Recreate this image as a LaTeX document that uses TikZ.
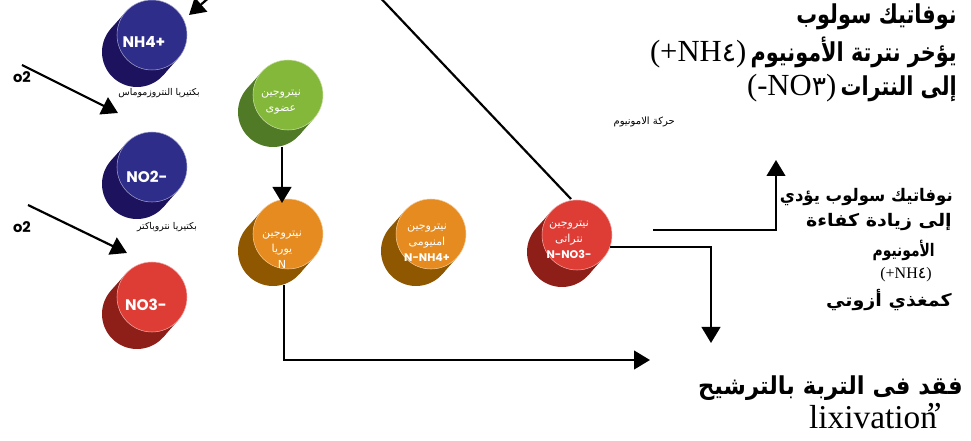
\documentclass[tikz,border=0pt]{standalone}
\usepackage{graphicx}
\usepackage{fontspec}
\setmainfont{Liberation Serif}
\newfontfamily\ar[Script=Arabic]{DejaVu Sans}
\newfontfamily\pop{Poppins}
\TeXXeTstate=1
\usetikzlibrary{arrows.meta}
\definecolor{bluL}{HTML}{2E2E8A}
\definecolor{bluD}{HTML}{1C125E}
\definecolor{grnL}{HTML}{84B83A}
\definecolor{grnD}{HTML}{507A25}
\definecolor{orgL}{HTML}{E58B1F}
\definecolor{orgD}{HTML}{8E5700}
\definecolor{redL}{HTML}{DE3D36}
\definecolor{redD}{HTML}{8E1F18}
\newcommand{\cyl}[5]{%
  \fill[#5] (#2-15,#3+17) circle[radius=35];
  \fill[#5] (#2+26.2,#3+23.2) -- (#2-26.2,#3-23.2) -- (#2-41.2,#3-6.2) -- (#2+11.2,#3+40.2) -- cycle;
  \node[disc,fill=#4,draw=white!55!#4] (#1) at (#2,#3) {};
}
\newcommand{\nar}[1]{\scalebox{0.8}[1]{\beginR #1\endR}}
\tikzset{
  disc/.style={circle,minimum size=52.5pt,inner sep=0pt,line width=0.4pt},
  ln/.style={line width=1.65pt},
  arr/.style={ln,-{Triangle[length=12pt,width=14pt]}},
  lat/.style={text=white,font=\pop\bfseries\fontsize{11.5}{13}\selectfont,inner sep=0pt},
  arw/.style={text=white,font=\ar\fontsize{8.3}{12}\selectfont,align=center,inner sep=0pt},
  small/.style={font=\ar\fontsize{7}{8}\selectfont,inner sep=0pt},
  big/.style={font=\ar\bfseries\fontsize{19.5}{22}\selectfont,inner sep=0pt,anchor=east},
  mid/.style={font=\ar\bfseries\fontsize{13}{15}\selectfont,inner sep=0pt,anchor=east},
  otwo/.style={font=\pop\bfseries\fontsize{11}{12}\selectfont,inner sep=0pt}
}
\begin{document}
\begin{tikzpicture}[x=0.75pt,y=-0.75pt]
\useasboundingbox (0,0) rectangle (971,441);
\clip (0,0) rectangle (971,441);
% cylinders
\cyl{nh}{152}{35}{bluL}{bluD}
\cyl{notwo}{152}{167}{bluL}{bluD}
\cyl{nothree}{152}{297}{redL}{redD}
\cyl{org}{288}{95}{grnL}{grnD}
\cyl{urea}{288}{234}{orgL}{orgD}
\cyl{amm}{431}{234}{orgL}{orgD}
\cyl{nit}{577}{235}{redL}{redD}
% circle labels
\node[lat] (lnh) at (144,42) {NH4+};
\node[lat] (lno2) at (147,177) {NO2-};
\node[lat] (lno3) at (146,305) {NO3-};
\node[arw] (lorg) at (281,102) {\beginR نيتروجين\endR\\\beginR عضوى\endR};
\node[arw] (lurea) at (282,250) {\beginR نيتروجين\endR\\\beginR يوريا\endR\\N};
\node[arw] (lamm) at (427,243) {\beginR نيتروجين\endR\\\beginR امنيومى\endR\\{\pop\bfseries N-NH4+}};
\node[arw] (lnit) at (569,240) {\beginR نيتروجين\endR\\\beginR نتراتى\endR\\{\pop\bfseries N-NO3-}};
% bacteria labels
\node[small] (b1) at (159,93) {\beginR بكتيريا النتروزموماس\endR};
\node[small] (b2) at (167,227) {\beginR بكتيريا نتروباكتر\endR};
\node[otwo] (o1) at (22,77) {o2};
\node[otwo] (o2b) at (22,227) {o2};
% connectors
\coordinate (a0) at (235,-25); \coordinate (a1) at (189,15);
\draw[arr] (a0) -- (a1);
\coordinate (p0) at (22,65); \coordinate (p1) at (118,113);
\draw[arr] (p0) -- (p1);
\coordinate (q0) at (28,205); \coordinate (q1) at (127,253);
\draw[arr] (q0) -- (q1);
\coordinate (g0) at (282,147); \coordinate (g1) at (282,203);
\draw[arr] (g0) -- (g1);
\coordinate (u0) at (284,285); \coordinate (u1) at (650,360);
\draw[arr] (u0) |- (u1);
\coordinate (d0) at (571,199); \coordinate (d1) at (373,-10);
\draw[ln] (d0) -- (d1);
\coordinate (r0) at (610,247); \coordinate (r1) at (711,343);
\draw[arr] (r0) -| (r1);
\coordinate (s0) at (653,230); \coordinate (s1) at (776,160);
\draw[arr] (s0) -| (s1);
% texts top right
\node[big] (t1) at (957,17) {\nar{نوفاتيك سولوب}};
\node[big] (t2) at (957,52) {{\rmfamily\mdseries\fontsize{23}{24}\selectfont (+NH{\ar\fontsize{20}{22}\selectfont ٤})}\,\nar{يؤخر نترتة الأمونيوم}};
\node[big] (t3) at (957,88) {{\rmfamily\mdseries\fontsize{23}{24}\selectfont (-NO{\ar\fontsize{20}{22}\selectfont ٣})}\,\nar{إلى النترات}};
\node[small,font=\ar\fontsize{7.5}{9}\selectfont,anchor=east] (mv) at (675,122) {\beginR حركة الامونيوم\endR};
% texts right middle
\node[mid] (m1) at (953,197) {\scalebox{0.95}[1]{\beginR نوفاتيك سولوب يؤدي\endR}};
\node[mid] (m2) at (952,222) {\scalebox{1.1}[1]{\beginR إلى زيادة كفاءة\endR}};
\node[mid] (m3) at (935,250) {\nar{الأمونيوم}};
\node[mid] (m4) at (932,275) {{\rmfamily\mdseries\fontsize{12}{14}\selectfont (+NH{\ar ٤})}};
\node[mid] (m5) at (952,300) {\scalebox{1.1}[1]{\beginR كمغذي أزوتي\endR}};
% bottom
\node[big,font=\ar\bfseries\fontsize{18.5}{20}\selectfont] (f1) at (963,388) {\scalebox{0.92}[1]{\beginR فقد فى التربة بالترشيح\endR}};
\node[inner sep=0pt,anchor=east,font=\fontsize{25}{28}\selectfont] (f2) at (942,416) {lixivation\kern-0.3em\raisebox{0.08em}{\char"0022}};
\end{tikzpicture}
\end{document}
